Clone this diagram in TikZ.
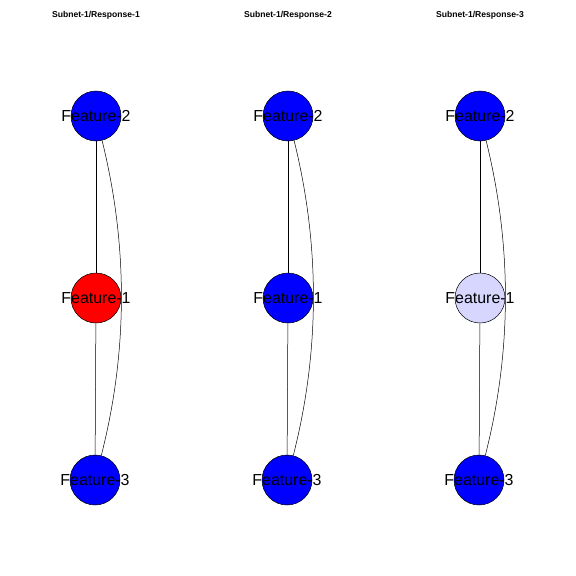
\documentclass[tikz,border=0pt]{standalone}
\usepackage{fontspec}
\setmainfont{Liberation Sans}
\definecolor{featblue}{RGB}{0,0,255}
\definecolor{featred}{RGB}{255,0,0}
\definecolor{featpale}{RGB}{214,214,255}
\tikzset{
  feat/.style={draw=black,circle,line width=0.5bp,minimum size=50bp,inner sep=0pt,
    label={[featlabel]center:#1}},
  featlabel/.style={font=\fontsize{16}{16}\selectfont,inner sep=0pt},
  link/.style={draw=black,line width=0.5bp},
  paneltitle/.style={font=\fontsize{8.6}{9}\selectfont\bfseries}
}
\begin{document}
\begin{tikzpicture}[x=1bp,y=-1bp]
\useasboundingbox (0,0) rectangle (576,576);
% panel 1
\node[paneltitle]                        (t1) at (96,15)   {Subnet-1/Response-1};
\node[feat=Feature-2,fill=featblue]      (a2) at (96,116)  {};
\node[feat=Feature-1,fill=featred]       (a1) at (96,298)  {};
\node[feat=Feature-3,fill=featblue]      (a3) at (95,480)  {};
\draw[link] (a2) -- (a1);
\draw[link] (a1) -- (a3);
\draw[link] (a2) .. controls (128,245) and (128,351) .. (a3);
% panel 2
\node[paneltitle]                        (t2) at (288,15)  {Subnet-1/Response-2};
\node[feat=Feature-2,fill=featblue]      (b2) at (288,116) {};
\node[feat=Feature-1,fill=featblue]      (b1) at (288,298) {};
\node[feat=Feature-3,fill=featblue]      (b3) at (287,480) {};
\draw[link] (b2) -- (b1);
\draw[link] (b1) -- (b3);
\draw[link] (b2) .. controls (320,245) and (320,351) .. (b3);
% panel 3
\node[paneltitle]                        (t3) at (480,15)  {Subnet-1/Response-3};
\node[feat=Feature-2,fill=featblue]      (c2) at (480,116) {};
\node[feat=Feature-1,fill=featpale]      (c1) at (480,298) {};
\node[feat=Feature-3,fill=featblue]      (c3) at (479,480) {};
\draw[link] (c2) -- (c1);
\draw[link] (c1) -- (c3);
\draw[link] (c2) .. controls (512,245) and (512,351) .. (c3);
\end{tikzpicture}
\end{document}
